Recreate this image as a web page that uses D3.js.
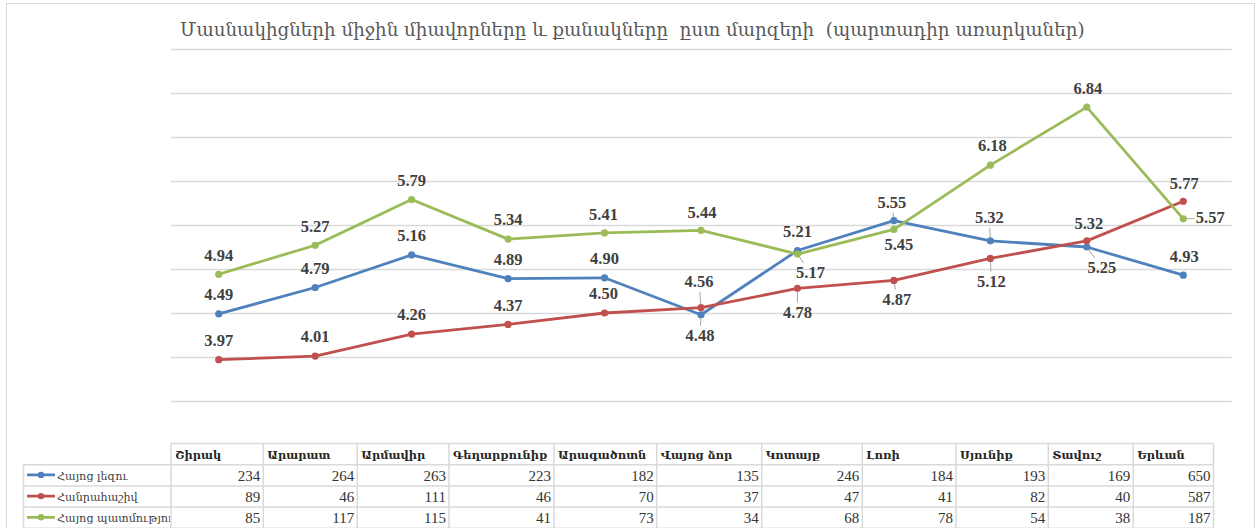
<!DOCTYPE html>
<html><head><meta charset="utf-8">
<script src="https://cdn.jsdelivr.net/npm/d3@7"></script>
<style>body{margin:0;background:#fff;} svg{display:block;}</style>
</head><body>
<svg id="c" width="1257" height="528"></svg>
<script>
// ---------- DATA ----------
const title = "Մասնակիցների միջին միավորները և քանակները  ըստ մարզերի  (պարտադիր առարկաներ)";
const regions = ["Շիրակ","Արարատ","Արմավիր","Գեղարքունիք","Արագածոտն","Վայոց ձոր","Կոտայք","Լոռի","Սյունիք","Տավուշ","Երևան"];
const seriesNames = ["Հայոց լեզու","Հանրահաշիվ","Հայոց պատմություն"];
const armenianScores = [4.49,4.79,5.16,4.89,4.90,4.48,5.21,5.55,5.32,5.25,4.93];
const algebraScores  = [3.97,4.01,4.26,4.37,4.50,4.56,4.78,4.87,5.12,5.32,5.77];
const historyScores  = [4.94,5.27,5.79,5.34,5.41,5.44,5.17,5.45,6.18,6.84,5.57];
const armenianCounts = [234,264,263,223,182,135,246,184,193,169,650];
const algebraCounts  = [89,46,111,46,70,37,47,41,82,40,587];
const historyCounts  = [85,117,115,41,73,34,68,78,54,38,187];
const yTicks = [3.5,4,4.5,5,5.5,6,6.5,7,7.5];

// ---------- LAYOUT / STYLE ----------
const colors = ["#4F81BD","#C0504D","#9BBB59"];
const scores = [armenianScores, algebraScores, historyScores];
const counts = [armenianCounts, algebraCounts, historyCounts];
// manual data-label placement (dx, dy from point, leader line?)
const labelPlacement = [
  [[0,-19,0],[0,-19,0],[0,-19,0],[0,-19,0],[0,-19,0],[-1,21,1],[0,-19,0],[-2,-18,1],[-1,-23,1],[15,21,1],[1,-18,0]],
  [[0,-19,0],[0,-19,0],[0,-19,0],[0,-19,0],[-1,-19,0],[-2,-26,1],[0,24,1],[3,19,1],[1,23,1],[2,-17,0],[1,-18,0]],
  [[0,-19,0],[0,-19,0],[0,-19,0],[0,-19,0],[-1,-18,0],[1,-18,0],[13,19,1],[5,15,0],[2,-19,0],[1,-18,0],[27,-1,1]]
];
// table column widths (the data table under the chart)
const tableLeft = 171, legendLeft = 23.5;
const tableColWidths = [92.3,94,91.7,105,102.7,105,100.6,93.7,92.3,85,80.2];
const headerTop = 443.5, rowH = 21.2;

const svg = d3.select("#c");

// chart border
svg.append("rect").attr("x",6.5).attr("y",3.5).attr("width",1248).attr("height",560)
  .attr("fill","#fff").attr("stroke","#D9D9D9").attr("stroke-width",1);

const x = d3.scaleBand().domain(regions).range([170.5,1231.5]);
const y = d3.scaleLinear().domain([3.5,7.5]).range([401,49]);
const cx = r => x(r) + x.bandwidth()/2;

// gridlines via axis
const grid = svg.append("g").attr("transform","translate(170.5,0)")
  .call(d3.axisLeft(y).tickValues(yTicks).tickSize(-(1231.5-170.5)).tickFormat(""));
grid.select(".domain").remove();
grid.selectAll("line").attr("stroke","#D9D9D9").attr("stroke-width",1.3);

// title (fitted to the reference width)
const tt = svg.append("text").attr("x",180).attr("y",35.5)
  .attr("font-family","DejaVu Serif, serif").attr("font-size",19.5).attr("fill","#595959")
  .attr("xml:space","preserve").style("white-space","pre")
  .text(title);
{
  const w = tt.node().getComputedTextLength();
  tt.attr("font-size", 19.5*905/w);
}

// lines + markers
const line = d3.line().x((d,i)=>cx(regions[i])).y(d=>y(d));
scores.forEach((s,k)=>{
  svg.append("path").datum(s).attr("d",line).attr("fill","none")
    .attr("stroke",colors[k]).attr("stroke-width",2.8).attr("stroke-linejoin","round");
  svg.append("g").selectAll("circle").data(s).join("circle")
    .attr("cx",(d,i)=>cx(regions[i])).attr("cy",d=>y(d)).attr("r",3.6).attr("fill",colors[k]);
});

// data labels
const lblG = svg.append("g");
scores.forEach((s,k)=>{
  s.forEach((v,i)=>{
    const px = cx(regions[i]), py = y(v);
    const [dx,dy,lead] = labelPlacement[k][i];
    const lx = px+dx, ly = py+dy;
    const t = lblG.append("text").attr("x",lx).attr("y",ly+5.3)
      .attr("text-anchor","middle").attr("font-family","Liberation Serif, serif")
      .attr("font-weight","bold").attr("font-size",16.5).attr("fill","#404040")
      .text(v.toFixed(2));
    if(lead){
      const w = t.node().getComputedTextLength();
      const ddx = px-lx, ddy = py-ly;
      const hw = w/2+1.5, hh = 10;
      const tx = ddx!==0 ? hw/Math.abs(ddx) : Infinity;
      const ty = ddy!==0 ? hh/Math.abs(ddy) : Infinity;
      const tm = Math.min(tx,ty);
      const sx = lx+ddx*tm, sy = ly+ddy*tm;
      const len = Math.hypot(ddx,ddy);
      const ex = px-ddx/len*3.5, ey = py-ddy/len*3.5;
      if(Math.hypot(ex-sx,ey-sy)>1.5 && tm<1)
        lblG.append("line").attr("x1",sx).attr("y1",sy).attr("x2",ex).attr("y2",ey)
          .attr("stroke","#A6A6A6").attr("stroke-width",1);
    }
  });
});

// ---------- DATA TABLE ----------
const edges = [tableLeft];
tableColWidths.forEach(w=>edges.push(edges[edges.length-1]+w));
const tableRight = edges[edges.length-1];
const tg = svg.append("g");
const bc = "#D9D9D9", bw = 1.5;
tg.append("line").attr("x1",tableLeft).attr("x2",tableRight).attr("y1",headerTop).attr("y2",headerTop)
  .attr("stroke",bc).attr("stroke-width",bw);
for(let r=1;r<=4;r++){
  const yy = headerTop + r*rowH;
  tg.append("line").attr("x1",legendLeft).attr("x2",tableRight).attr("y1",yy).attr("y2",yy)
    .attr("stroke",bc).attr("stroke-width",bw);
}
edges.forEach(e=>{
  tg.append("line").attr("x1",e).attr("x2",e).attr("y1",headerTop).attr("y2",headerTop+4*rowH)
    .attr("stroke",bc).attr("stroke-width",bw);
});
tg.append("line").attr("x1",legendLeft).attr("x2",legendLeft).attr("y1",headerTop+rowH).attr("y2",headerTop+4*rowH)
  .attr("stroke",bc).attr("stroke-width",bw);

// headers
regions.forEach((r,i)=>{
  tg.append("text").attr("x",edges[i]+4).attr("y",headerTop+15)
    .attr("font-family","DejaVu Serif, serif").attr("font-weight","bold").attr("font-size",11.4)
    .attr("fill","#262626").text(r);
});
// values + legend
counts.forEach((row,k)=>{
  const top = headerTop + (k+1)*rowH;
  row.forEach((v,i)=>{
    tg.append("text").attr("x",edges[i+1]-3).attr("y",top+16.3).attr("text-anchor","end")
      .attr("font-family","Liberation Serif, serif").attr("font-size",15)
      .attr("fill","#333").text(v);
  });
  const clipId = "clip"+k;
  svg.append("clipPath").attr("id",clipId).append("rect")
    .attr("x",legendLeft).attr("y",top).attr("width",tableLeft-legendLeft-1).attr("height",rowH);
  const lg = tg.append("g").attr("clip-path",`url(#${clipId})`);
  lg.append("line").attr("x1",27).attr("x2",55).attr("y1",top+10.2).attr("y2",top+10.2)
    .attr("stroke",colors[k]).attr("stroke-width",2.8);
  lg.append("circle").attr("cx",41).attr("cy",top+10.2).attr("r",3.2).attr("fill",colors[k]);
  lg.append("text").attr("x",57).attr("y",top+15).attr("font-family","DejaVu Serif, serif")
    .attr("font-size",11.2).attr("fill","#404040").text(seriesNames[k]);
});
</script>
</body></html>
